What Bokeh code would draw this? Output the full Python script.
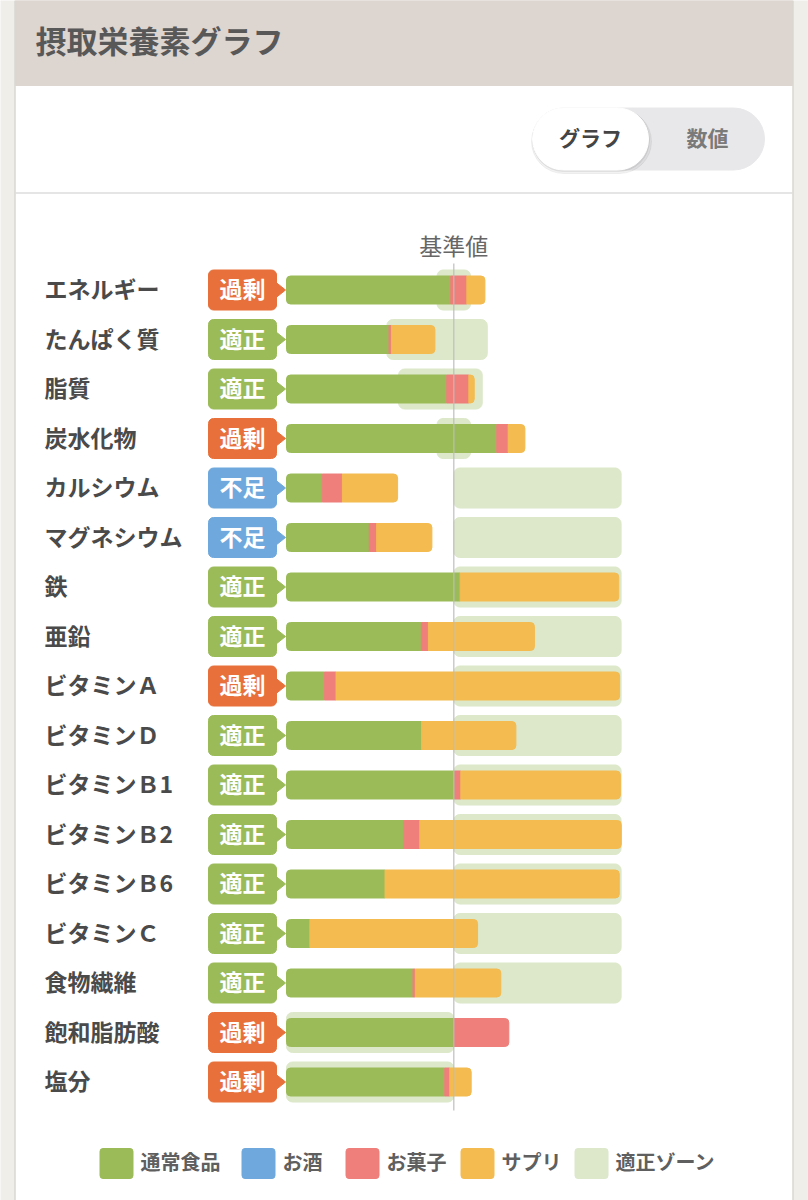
from bokeh.plotting import figure
from bokeh.models import Range1d
from bokeh.core.properties import value
from bokeh.embed import file_html
from bokeh.resources import INLINE

# ---- data (percent of the reference intake) ----
nutrients = ["エネルギー", "たんぱく質", "脂質", "炭水化物", "カルシウム", "マグネシウム",
             "鉄", "亜鉛", "ビタミンＡ", "ビタミンＤ", "ビタミンＢ1", "ビタミンＢ2",
             "ビタミンＢ6", "ビタミンＣ", "食物繊維", "飽和脂肪酸", "塩分"]
status = ["過剰", "適正", "適正", "過剰", "不足", "不足", "適正", "適正", "過剰",
          "適正", "適正", "適正", "適正", "適正", "適正", "過剰", "過剰"]
food = [98.2, 61.3, 95.8, 125.7, 21.4, 49.5, 103.8, 80.6, 22.8,
        80.8, 100.6, 70.3, 58.9, 14.0, 75.6, 99.8, 94.6]
alcohol = [0, 0, 0, 0, 0, 0, 0, 0, 0, 0, 0, 0, 0, 0, 0, 0, 0]
sweets = [9.6, 1.4, 13.2, 6.8, 12.0, 4.4, 0, 4.2, 6.8,
          0, 3.6, 9.4, 0, 0, 1.4, 33.1, 3.0]
supplements = [10.8, 26.0, 3.2, 10.0, 33.0, 33.0, 94.8, 63.4, 169.5,
               56.3, 95.4, 120.4, 140.0, 100.2, 51.1, 0, 12.8]
zone_low = [90, 60, 67, 90, 100, 100, 100, 100, 100, 100, 100, 100, 100, 100, 100, 0, 0]
zone_high = [110, 120, 117, 110, 200, 200, 200, 200, 200, 200, 200, 200, 200, 200, 200, 100, 100]
reference_value = 100
legend_labels = ["通常食品", "お酒", "お菓子", "サプリ", "適正ゾーン"]

# ---- styling ----
FONT = value("Noto Sans CJK JP")
GREEN = "#9bbb59"
BLUE = "#6fa8dc"
PINK = "#ee7f7b"
YELLOW = "#f3bb50"
ZONE = "#dce8c9"
STATUS_COLORS = {"過剰": "#e8703a", "適正": GREEN, "不足": BLUE}
SERIES = [(food, GREEN), (alcohol, BLUE), (sweets, PINK), (supplements, YELLOW)]

W, H = 808, 1200
PX0 = 286.0          # screen x of 0 %
PX_PER_PCT = 1.673   # screen px per 1 %
ROW_Y0, ROW_STEP = 289.5, 49.5

p = figure(width=W, height=H, x_range=Range1d(0, W), y_range=Range1d(H, 0),
           output_backend="svg", toolbar_location=None, min_border=0,
           x_axis_location=None, y_axis_location=None)
p.grid.visible = False
p.outline_line_color = None
p.background_fill_color = "#efeee9"
p.border_fill_color = "#efeee9"
p.extra_x_ranges = {"pct": Range1d(-PX0 / PX_PER_PCT, (W - PX0) / PX_PER_PCT)}

# ---- card, header, toggle ----
p.quad(left=15, right=792, top=85, bottom=H, color="white")
p.quad(left=15, right=792, top=0, bottom=85, color="#ddd5cf")
p.segment(x0=[14.5, 792.5], y0=[0, 0], x1=[14.5, 792.5], y1=[H, H], color="#d8d7d0", line_width=1.5)
p.segment(x0=[15], y0=[192.5], x1=[792], y1=[192.5], color="#dddddd", line_width=1.5)
p.text(x=[35], y=[39], text=["摂取栄養素グラフ"], text_font=FONT, text_font_size="31px",
       text_font_style="bold", text_color="#585858", text_align="left", text_baseline="middle")

p.rect(x=[648], y=[138.5], width=232, height=62, color="#e8e8ea", border_radius=31)
p.rect(x=[591], y=[141], width=120, height=64, color="#000000", alpha=0.05, border_radius=32)
p.rect(x=[590.5], y=[139.5], width=117, height=63, color="#000000", alpha=0.05, border_radius=31)
p.rect(x=[590], y=[138.5], width=116, height=62, color="white", border_radius=31)
p.text(x=[590, 707], y=[136, 136], text=["グラフ", "数値"], text_font=FONT, text_font_size="21px",
       text_font_style="bold", text_color=["#444444", "#7a7a7a"], text_align="center",
       text_baseline="middle")

# ---- rows ----
n = len(nutrients)
ys = [ROW_Y0 + i * ROW_STEP for i in range(n)]

p.text(x=[44] * n, y=[y - 2 for y in ys], text=nutrients, text_font=FONT, text_font_size="23px",
       text_font_style="bold", text_color="#4a4a4a", text_align="left", text_baseline="middle")

# status badges
badge_colors = [STATUS_COLORS[s] for s in status]
p.rect(x=[242] * n, y=ys, width=68, height=40, color=badge_colors, border_radius=5)
p.patches(xs=[[275, 285, 275] for _ in ys], ys=[[y - 8, y, y + 8] for y in ys],
          color=badge_colors)
p.text(x=[242] * n, y=[y - 2 for y in ys], text=status, text_font=FONT, text_font_size="23px",
       text_font_style="bold", text_color="white", text_align="center", text_baseline="middle")

# target zones
p.hbar(y=ys, left=zone_low, right=zone_high, height=40, color=ZONE,
       x_range_name="pct", border_radius=6)

# stacked intake bars, rounded only on the outer ends
R = 4
groups = {}
for i in range(n):
    segs = []
    start = 0.0
    for vals, col in SERIES:
        v = vals[i]
        if v > 0:
            segs.append((start, start + v, col))
        start += v
    for k, (l, r, col) in enumerate(segs):
        first, last = k == 0, k == len(segs) - 1
        rad = (R if first else 0, R if last else 0, R if last else 0, R if first else 0)
        g = groups.setdefault((col, rad), {"y": [], "left": [], "right": []})
        g["y"].append(ys[i])
        g["left"].append(l)
        g["right"].append(r)
for (col, rad), g in groups.items():
    p.hbar(y=g["y"], left=g["left"], right=g["right"], height=28, color=col,
           x_range_name="pct", border_radius=rad)

# reference line
p.segment(x0=[reference_value], y0=[263], x1=[reference_value], y1=[1110],
          x_range_name="pct", color="#bdbdbd", line_width=1.3, alpha=0.9)
p.text(x=[reference_value], y=[244], text=["基準値"], x_range_name="pct", text_font=FONT,
       text_font_size="23px", text_color="#666666", text_align="center", text_baseline="middle")

# ---- legend ----
legend_colors = [GREEN, BLUE, PINK, YELLOW, ZONE]
sw_x = [116, 258, 362, 477, 591]
p.rect(x=sw_x, y=[1163] * 5, width=33, height=30, color=legend_colors, border_radius=3)
p.text(x=[x + 24 for x in sw_x], y=[1161] * 5, text=legend_labels, text_font=FONT,
       text_font_size="20px", text_font_style="bold", text_color="#5f5f5f",
       text_align="left", text_baseline="middle")

open("out.html", "w").write(file_html(p, INLINE))
